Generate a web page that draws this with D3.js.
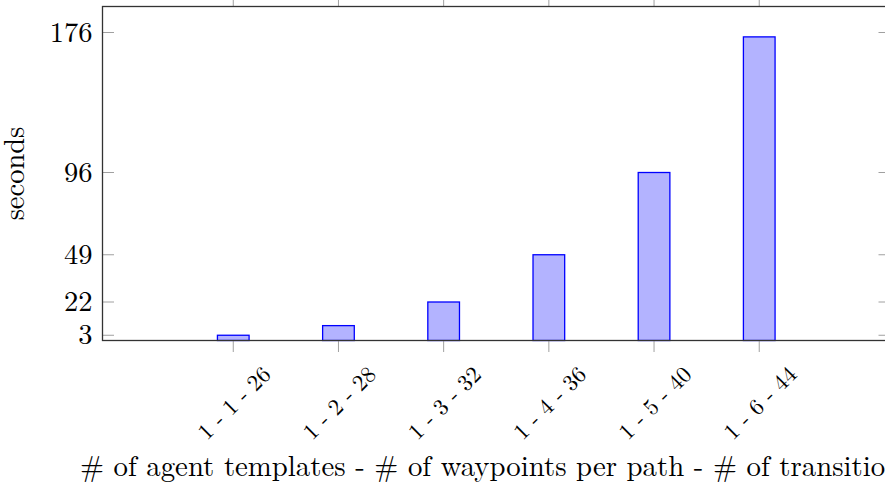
<!DOCTYPE html>
<html>
<head>
<meta charset="utf-8">
<script src="https://cdn.jsdelivr.net/npm/d3@7"></script>
<style>
  html, body { margin: 0; padding: 0; background: #fff; }
  svg { display: block; }
  text { font-family: "Latin Modern Roman", "CMU Serif", "Liberation Serif", serif; fill: #000; }
</style>
</head>
<body>
<svg id="chart" width="885" height="503"></svg>
<script>
// Data
const categories = ["1 - 1 - 26", "1 - 2 - 28", "1 - 3 - 32", "1 - 4 - 36", "1 - 5 - 40", "1 - 6 - 44"];
const seconds = [3, 8.5, 22, 49, 96, 173.5];
const yTicks = [3, 22, 49, 96, 176];
const xLabel = "# of agent templates - # of waypoints per path - # of transitions";
const yLabel = "seconds";

const svg = d3.select("#chart");
const pLeft = 102.5, pRight = 890, pTop = 6.5, pBottom = 340.5;

const x = d3.scaleLinear().domain([-1.243, categories.length - 1 + 1.243]).range([pLeft, pRight]);
const y = d3.scaleLinear().domain([0, 190.86]).range([pBottom, pTop]);

const fs = 28.5;
const fsTick = 23;

// Bars
const half = 0.1505;
svg.append("g").selectAll("rect").data(seconds).join("rect")
  .attr("x", (d, i) => x(i - half))
  .attr("width", (d, i) => x(i + half) - x(i - half))
  .attr("y", d => y(d))
  .attr("height", d => y(0) - y(d))
  .attr("fill", "#b3b3ff")
  .attr("stroke", "#0000ff")
  .attr("stroke-width", 1.3);

// Y ticks (inside, both sides)
const yt = svg.append("g");
yt.selectAll("line.l").data(yTicks).join("line").attr("class", "l")
  .attr("x1", pLeft).attr("x2", pLeft + 11.5)
  .attr("y1", d => y(d)).attr("y2", d => y(d))
  .attr("stroke", "#a0a0a0").attr("stroke-width", 1);
yt.selectAll("line.r").data(yTicks).join("line").attr("class", "r")
  .attr("x1", pRight - 11.5).attr("x2", pRight)
  .attr("y1", d => y(d)).attr("y2", d => y(d))
  .attr("stroke", "#a0a0a0").attr("stroke-width", 1);
yt.selectAll("text").data(yTicks).join("text")
  .attr("x", pLeft - 10)
  .attr("y", d => y(d) + 9)
  .attr("text-anchor", "end")
  .attr("font-size", fs)
  .text(d => d);

// X ticks (outside, bottom and top)
const xt = svg.append("g");
xt.selectAll("line.b").data(categories).join("line").attr("class", "b")
  .attr("x1", (d, i) => x(i)).attr("x2", (d, i) => x(i))
  .attr("y1", pBottom).attr("y2", pBottom + 11.5)
  .attr("stroke", "#a0a0a0").attr("stroke-width", 1);
xt.selectAll("line.t").data(categories).join("line").attr("class", "t")
  .attr("x1", (d, i) => x(i)).attr("x2", (d, i) => x(i))
  .attr("y1", pTop - 11.5).attr("y2", pTop)
  .attr("stroke", "#a0a0a0").attr("stroke-width", 1);
xt.selectAll("text").data(categories).join("text")
  .attr("transform", (d, i) => `translate(${x(i) + 1},403) rotate(-45)`)
  .attr("text-anchor", "middle")
  .attr("dy", "0.33em")
  .attr("font-size", fsTick)
  .text(d => d);

// Frame
svg.append("rect")
  .attr("x", pLeft).attr("y", pTop)
  .attr("width", pRight - pLeft).attr("height", pBottom - pTop)
  .attr("fill", "none").attr("stroke", "#333").attr("stroke-width", 1.3);

// Axis labels
svg.append("text")
  .attr("x", (pLeft + pRight) / 2)
  .attr("y", 476)
  .attr("text-anchor", "middle")
  .attr("font-size", 28.8)
  .text(xLabel);

svg.append("text")
  .attr("transform", `translate(24,${(pTop + pBottom) / 2}) rotate(-90)`)
  .attr("text-anchor", "middle")
  .attr("font-size", fs)
  .text(yLabel);
</script>
</body>
</html>
